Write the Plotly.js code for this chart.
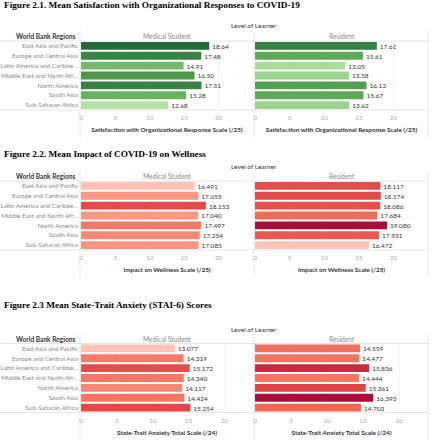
<!DOCTYPE html>
<html><head><meta charset="utf-8">
<script src="https://cdn.plot.ly/plotly-3.0.1.min.js"></script>
<style>html,body{margin:0;padding:0;background:#fff}</style></head>
<body>
<div id="chart" style="width:433px;height:440px"></div>
<script>
// ---------- data ----------
const regions = ['East Asia and Pacific','Europe and Central Asia','Latin America and Caribbean','Middle East and North Africa','North America','South Asia','Sub-Saharan Africa'];
const regionLabels = ['East Asia and Pacific','Europe and Central Asia','Latin America and Caribbe\u2026','Middle East and North Afr\u2026','North America','South Asia','Sub-Saharan Africa'];
const learnerLevels = ['Medical Student','Resident'];
const figureTitles = [
  'Figure 2.1. Mean Satisfaction with Organizational Responses to COVID-19',
  'Figure 2.2. Mean Impact of COVID-19 on Wellness',
  'Figure 2.3 Mean State-Trait Anxiety (STAI-6) Scores'
];
const axisTitles = [
  'Satisfaction with Organizational Response Scale (/25)',
  'Impact on Wellness Scale (/25)',
  'State-Trait Anxiety Total Scale (/24)'
];
const satisfactionMedical = [18.64, 17.48, 14.91, 16.50, 17.51, 15.28, 12.68];
const satisfactionResident = [17.61, 15.61, 13.05, 13.58, 16.12, 15.67, 13.62];
const wellnessMedical = [16.491, 17.055, 18.153, 17.040, 17.497, 17.254, 17.085];
const wellnessResident = [18.117, 18.174, 18.086, 17.684, 19.080, 17.931, 16.472];
const anxietyMedical = [13.077, 14.319, 15.172, 14.340, 14.117, 14.424, 15.254];
const anxietyResident = [14.559, 14.477, 15.836, 14.444, 15.361, 16.393, 14.703];
const scaleMax = [25, 25, 24];
const tickVals = [[0,5,10,15,20],[0,5,10,15,20],[0,5,10,15,20]];
const endTickVals = [[25],[25],[]];
const valueFormats = ['%{x:.2f}','%{x:.3f}','%{x:.3f}'];

// ---------- styling ----------
const greenScale = [[0,'#b5e3a7'],[0.25,'#8acb7c'],[0.5,'#5ea957'],[0.75,'#3f8b45'],[1,'#24693a']];
const redScale = [[0,'#ffc2b5'],[0.25,'#f9927c'],[0.5,'#ef6554'],[0.75,'#d93842'],[1,'#a50f3c']];
const scales = [greenScale, redScale, redScale];
const series = [[satisfactionMedical, satisfactionResident],[wellnessMedical, wellnessResident],[anxietyMedical, anxietyResident]];

const W = 433, H = 440;
const fx = p => p / W;
const fy = p => 1 - p / H;
const FONT = 'Lato, "Open Sans", sans-serif';
const geo = [
  {titleY:4.5, lolY:26, headY:36, hTop:31, top:41, bottom:110, end:137},
  {titleY:154, lolY:166.7, headY:176, hTop:171, top:181, bottom:250, end:277},
  {titleY:305, lolY:329, headY:338.7, hTop:333, top:343.5, bottom:412.5, end:440}
];
const panelX = [[81,253],[255,428]];
const paneEdges = [80, 254, 428];
const tickFont = {family: FONT, size: 6.4, color: '#aaa'};

const traces = [];
const layout = {
  width: W, height: H,
  margin: {l:0, r:0, t:0, b:0},
  paper_bgcolor: '#fff', plot_bgcolor: '#fff',
  showlegend: false,
  font: {family: FONT, size: 6, color: '#333'},
  annotations: [], shapes: []
};

let extraAxis = 7;
for (let f = 0; f < 3; f++) {
  const g = geo[f];
  const all = series[f][0].concat(series[f][1]);
  const cmin = Math.min(...all), cmax = Math.max(...all);
  for (let s = 0; s < 2; s++) {
    const idx = f * 2 + s + 1;
    const sfx = idx === 1 ? '' : String(idx);
    traces.push({
      type: 'bar', orientation: 'h',
      x: series[f][s], y: regions,
      xaxis: 'x' + sfx, yaxis: 'y' + sfx,
      marker: {color: series[f][s], colorscale: scales[f], cmin: cmin, cmax: cmax, line: {width: 0}},
      texttemplate: valueFormats[f], textposition: 'outside', cliponaxis: false,
      textfont: {family: FONT, size: 6.6, color: '#333'},
      hoverinfo: 'x+y'
    });
    layout['xaxis' + sfx] = {
      domain: [fx(panelX[s][0]), fx(panelX[s][1])],
      anchor: 'y' + sfx, range: [0, scaleMax[f]], fixedrange: true,
      tickvals: tickVals[f],
      tickfont: tickFont, ticklabelstandoff: 3,
      showgrid: true, gridcolor: '#f3f3f3', zeroline: false, showline: false, ticks: '',
      title: {text: axisTitles[f], font: {family: FONT, size: 6.4, color: '#333', weight: 'bold'}, standoff: 7}
    };
    if (endTickVals[f].length) {
      // end-of-scale tick label, nudged inside the pane like the original
      layout['xaxis' + extraAxis] = {
        overlaying: 'x' + sfx, anchor: 'y' + sfx, side: 'bottom',
        range: [0, scaleMax[f]], fixedrange: true,
        tickvals: endTickVals[f], tickfont: tickFont, ticklabelstandoff: 3, ticklabelshift: -4,
        showgrid: false, zeroline: false, showline: false, ticks: ''
      };
      extraAxis++;
    }
    layout['yaxis' + sfx] = {
      domain: [fy(g.bottom), fy(g.top)],
      anchor: 'x' + sfx, type: 'category',
      categoryorder: 'array', categoryarray: regions,
      range: [6.5, -0.5], fixedrange: true,
      tickvals: regions, ticktext: regionLabels,
      showticklabels: s === 0, ticks: '', showgrid: false, zeroline: false, showline: false,
      tickfont: {family: FONT, size: 6.3, color: '#8a8a8a'}, ticklabelstandoff: 2
    };
    layout.annotations.push({
      text: learnerLevels[s], xref: 'paper', yref: 'paper',
      x: fx((panelX[s][0] + panelX[s][1]) / 2), y: fy(g.headY),
      xanchor: 'center', yanchor: 'middle', showarrow: false,
      font: {family: FONT, size: 6.7, color: '#8a8a8a'}
    });
  }
  layout.annotations.push({
    text: figureTitles[f], xref: 'paper', yref: 'paper',
    x: fx(2), y: fy(g.titleY), xanchor: 'left', yanchor: 'middle', showarrow: false,
    font: {family: '"Liberation Serif", "Times New Roman", serif', size: 9.25, color: '#000', weight: 'bold'}
  });
  layout.annotations.push({
    text: 'Level of Learner', xref: 'paper', yref: 'paper',
    x: fx(254), y: fy(g.lolY), xanchor: 'center', yanchor: 'middle', showarrow: false,
    font: {family: FONT, size: 6.5, color: '#333'}
  });
  layout.annotations.push({
    text: 'World Bank Regions', xref: 'paper', yref: 'paper',
    x: fx(77), y: fy(g.headY), xanchor: 'right', yanchor: 'middle', showarrow: false,
    font: {family: FONT, size: 6.6, color: '#333', weight: 'bold'}
  });
  // separators
  [g.top, g.bottom].forEach(yy => layout.shapes.push({
    type: 'line', xref: 'paper', yref: 'paper', x0: 0, x1: fx(428), y0: fy(yy), y1: fy(yy),
    line: {color: '#dedede', width: 0.8}, layer: 'below'
  }));
  paneEdges.forEach(xx => layout.shapes.push({
    type: 'line', xref: 'paper', yref: 'paper', x0: fx(xx), x1: fx(xx), y0: fy(g.hTop), y1: fy(g.end),
    line: {color: '#e2e2e2', width: 0.8}, layer: 'below'
  }));
}

Plotly.newPlot('chart', traces, layout, {staticPlot: true, displayModeBar: false});
</script>
</body></html>
